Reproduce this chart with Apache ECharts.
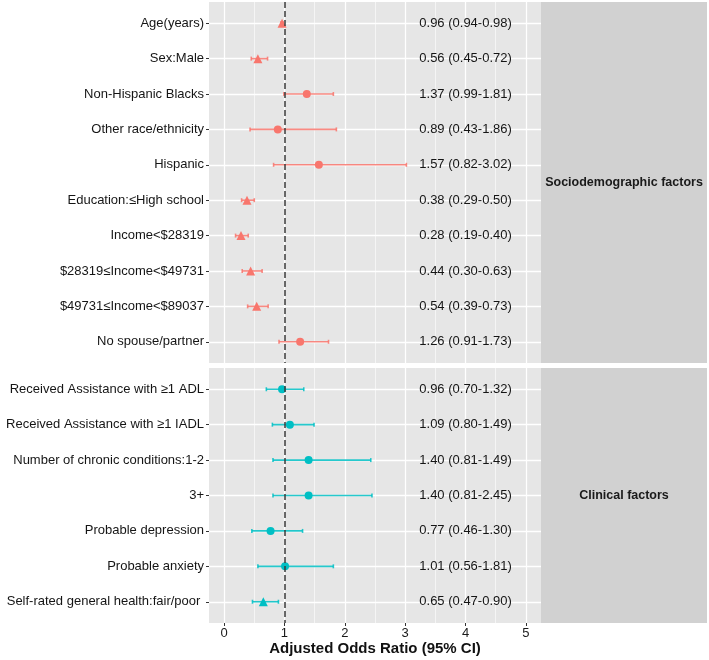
<!DOCTYPE html>
<html><head><meta charset="utf-8">
<script src="https://cdn.jsdelivr.net/npm/echarts@6/dist/echarts.min.js"></script>
<style>html,body{margin:0;padding:0;background:#fff}#c{width:709px;height:660px}</style>
</head><body><div id="c"></div>
<script>
// ---- data ----
const socioCats = ['Age(years)','Sex:Male','Non-Hispanic Blacks','Other race/ethnicity','Hispanic','Education:\u2264High school','Income<$28319','$28319\u2264Income<$49731','$49731\u2264Income<$89037','No spouse/partner'];
const socioOR   = [0.96,0.56,1.37,0.89,1.57,0.38,0.28,0.44,0.54,1.26];
const socioLow  = [0.94,0.45,0.99,0.43,0.82,0.29,0.19,0.30,0.39,0.91];
const socioHigh = [0.98,0.72,1.81,1.86,3.02,0.50,0.40,0.63,0.73,1.73];
const socioSig  = [true,true,false,false,false,true,true,true,true,false];
const socioText = ['0.96 (0.94-0.98)','0.56 (0.45-0.72)','1.37 (0.99-1.81)','0.89 (0.43-1.86)','1.57 (0.82-3.02)','0.38 (0.29-0.50)','0.28 (0.19-0.40)','0.44 (0.30-0.63)','0.54 (0.39-0.73)','1.26 (0.91-1.73)'];

const clinCats = ['Received Assistance with \u22651 ADL','Received Assistance with \u22651 IADL','Number of chronic conditions:1-2','3+','Probable depression','Probable anxiety','Self-rated general health:fair/poor '];
const clinOR   = [0.96,1.09,1.40,1.40,0.77,1.01,0.65];
const clinLow  = [0.70,0.80,0.81,0.81,0.46,0.56,0.47];
const clinHigh = [1.32,1.49,2.43,2.45,1.30,1.81,0.90];
const clinSig  = [false,false,false,false,false,false,true];
const clinText = ['0.96 (0.70-1.32)','1.09 (0.80-1.49)','1.40 (0.81-1.49)','1.40 (0.81-2.45)','0.77 (0.46-1.30)','1.01 (0.56-1.81)','0.65 (0.47-0.90)'];

const panelNames = ['Sociodemographic factors','Clinical factors'];
const xTicks = [0,1,2,3,4,5];
const xMinor = [0.5,1.5,2.5,3.5,4.5];
const textX = 4;
const refLine = 1;

// ---- chart ----
const FONT = "'Liberation Sans', Arial, sans-serif";
const RED = '#F8766D', TEAL = '#00BFC4';
const PANEL_BG = '#E6E6E6', STRIP_BG = '#D1D1D1';
const panels = [
  {cats: socioCats, or: socioOR, lo: socioLow, hi: socioHigh, sig: socioSig, txt: socioText, color: RED, top: 2, height: 361},
  {cats: clinCats, or: clinOR, lo: clinLow, hi: clinHigh, sig: clinSig, txt: clinText, color: TEAL, top: 368, height: 255}
];
const LEFT = 209, RIGHT = 709 - 541;

const grid = [], xAxis = [], yAxis = [], series = [], graphic = [];
panels.forEach((p, k) => {
  grid.push({left: LEFT, right: RIGHT, top: p.top, height: p.height, show: true, backgroundColor: PANEL_BG, borderWidth: 0});
  const idx = p.cats.map((_, i) => i);
  const isBottom = k === panels.length - 1;
  xAxis.push({
    type: 'value', gridIndex: k, min: -0.25, max: 5.25, position: 'bottom',
    axisLine: {show: false, onZero: false},
    axisTick: {show: isBottom, customValues: xTicks, length: 3, lineStyle: {color: '#333', width: 1}},
    axisLabel: {show: isBottom, customValues: xTicks, margin: 4, fontSize: 13, color: '#1a1a1a', fontFamily: FONT},
    splitLine: {show: true, lineStyle: {color: '#ffffff', width: 1.3}},
    name: isBottom ? 'Adjusted Odds Ratio (95% CI)' : '',
    nameLocation: 'middle', nameGap: 18,
    nameTextStyle: {fontSize: 15, fontWeight: 'bold', color: '#111', fontFamily: FONT}
  });
  xAxis.push({
    type: 'value', gridIndex: k, min: -0.25, max: 5.25, position: 'bottom',
    axisLine: {show: false, onZero: false},
    axisTick: {show: false, customValues: xMinor},
    axisLabel: {show: false, customValues: xMinor},
    splitLine: {show: true, lineStyle: {color: '#ffffff', width: 0.6}}
  });
  yAxis.push({
    type: 'value', gridIndex: k, inverse: true, min: -0.6, max: p.cats.length - 0.4, position: 'left',
    axisLine: {show: false, onZero: false},
    axisTick: {show: true, customValues: idx, length: 3, lineStyle: {color: '#333', width: 1}},
    axisLabel: {customValues: idx, margin: 5, fontSize: 13, color: '#151515', fontFamily: FONT,
      formatter: v => p.cats[Math.round(v)]},
    splitLine: {show: true, lineStyle: {color: '#ffffff', width: 1.3}}
  });
  const xi = k * 2;
  // error bars
  series.push({
    type: 'custom', xAxisIndex: xi, yAxisIndex: k, z: 2,
    data: p.cats.map((_, i) => [p.lo[i], p.hi[i], i]),
    renderItem: (params, api) => {
      const a = api.coord([api.value(0), api.value(2)]);
      const b = api.coord([api.value(1), api.value(2)]);
      const st = {stroke: p.color, lineWidth: 1.6, opacity: 0.85};
      const c = 2;
      return {type: 'group', children: [
        {type: 'line', shape: {x1: a[0], y1: a[1], x2: b[0], y2: b[1]}, style: st},
        {type: 'line', shape: {x1: a[0], y1: a[1] - c, x2: a[0], y2: a[1] + c}, style: st},
        {type: 'line', shape: {x1: b[0], y1: b[1] - c, x2: b[0], y2: b[1] + c}, style: st}
      ]};
    }
  });
  // points
  series.push({
    type: 'scatter', xAxisIndex: xi, yAxisIndex: k, z: 3,
    data: p.cats.map((_, i) => ({value: [p.or[i], i], symbol: p.sig[i] ? 'triangle' : 'circle', symbolSize: p.sig[i] ? 9 : 8})),
    itemStyle: {color: p.color, opacity: 1},
    emphasis: {disabled: true}
  });
  // value text
  series.push({
    type: 'custom', xAxisIndex: xi, yAxisIndex: k, z: 4,
    data: p.cats.map((_, i) => [textX, i, p.txt[i]]),
    renderItem: (params, api) => {
      const c = api.coord([api.value(0), api.value(1)]);
      return {type: 'text', x: c[0], y: c[1], style: {
        text: p.txt[params.dataIndex], fill: '#151515', font: '13px ' + FONT,
        align: 'center', verticalAlign: 'middle'}};
    }
  });
  // reference dashed line
  series.push({
    type: 'line', xAxisIndex: xi, yAxisIndex: k, z: 5, data: [],
    markLine: {silent: true, symbol: 'none', label: {show: false},
      lineStyle: {color: '#3a3a3a', type: [6, 3], width: 1.5},
      data: [{xAxis: refLine}]}
  });
  // strip
  graphic.push({type: 'rect', left: 541, top: p.top, shape: {width: 166, height: p.height}, style: {fill: STRIP_BG}, z: 0});
  graphic.push({type: 'text', x: 624, y: p.top + p.height / 2, style: {
    text: panelNames[k], font: 'bold 12.5px ' + FONT, fill: '#1a1a1a', align: 'center', verticalAlign: 'middle'}});
});

const chart = echarts.init(document.getElementById('c'), null, {renderer: 'canvas'});
chart.setOption({animation: false, grid, xAxis, yAxis, series, graphic});
</script>
</body></html>
